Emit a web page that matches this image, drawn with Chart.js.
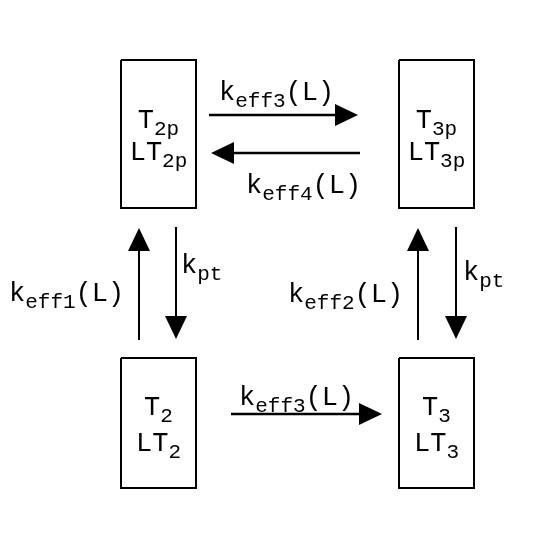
<!DOCTYPE html>
<html>
<head>
<meta charset="utf-8">
<script src="https://cdn.jsdelivr.net/npm/chart.js@4"></script>
<style>
  html, body { margin: 0; padding: 0; background: #fff; }
  #wrap { width: 536px; height: 536px; }
</style>
</head>
<body>
<div id="wrap"><canvas id="diagram"></canvas></div>
<script>
// states (boxes) in diagram units, y grows downward
const boxMain = [['T', 'LT'], ['T', 'LT'], ['T', 'LT'], ['T', 'LT']];
const boxSub = ['2p', '3p', '2', '3'];
const boxLeft = [121, 399, 121, 399];
const boxRight = [196, 474, 196, 474];
const boxTop = [60, 60, 358, 358];
const boxBottom = [208, 208, 488, 488];
const boxLineY = [[128, 160], [128, 160], [415, 451], [415, 451]];

// transitions: arrow tail -> tip
const arrowX0 = [209, 360, 139, 176, 418, 456, 231];
const arrowY0 = [115, 153, 340, 227, 340, 227, 414];
const arrowX1 = [358, 211, 139, 176, 418, 456, 382];
const arrowY1 = [115, 153, 228, 339, 228, 339, 414];

// rate labels
const rateSub = ['eff3', 'eff4', 'eff1', 'pt', 'eff2', 'pt', 'eff3'];
const rateArg = ['(L)', '(L)', '(L)', '', '(L)', '', '(L)'];
const rateX = [219, 246, 9, 181, 288, 463, 239];
const rateY = [100, 193, 301, 273, 302, 280, 405];

const FACE = "'Courier New', 'Nimbus Mono PS', 'Nimbus Mono L', FreeMono, Courier, 'Liberation Mono', monospace";
const MAIN_FONT = '27px ' + FACE;
const SUB_FONT = '21px ' + FACE;
const SUB_DROP = 7;

const datasets = [];
boxLeft.forEach((l, i) => {
    const r = boxRight[i], t = boxTop[i], b = boxBottom[i];
    datasets.push({
        data: [{x: l, y: t}, {x: r, y: t}, {x: r, y: b}, {x: l, y: b}, {x: l, y: t}],
        showLine: true, borderColor: '#000', borderWidth: 2, pointRadius: 0, tension: 0
    });
});

const HEAD_LEN = 23, HEAD_HALF = 11;
arrowX0.forEach((x0, i) => {
    const y0 = arrowY0[i], x1 = arrowX1[i], y1 = arrowY1[i];
    const len = Math.hypot(x1 - x0, y1 - y0);
    const ux = (x1 - x0) / len, uy = (y1 - y0) / len;
    datasets.push({
        data: [{x: x0, y: y0}, {x: x1 - ux * (HEAD_LEN - 2), y: y1 - uy * (HEAD_LEN - 2)}],
        showLine: true, borderColor: '#000', borderWidth: y0 === y1 ? 2.5 : 2, pointRadius: 0
    });
});

function drawRich(ctx, parts, x, y, align) {
    let w = 0;
    parts.forEach(p => { ctx.font = p[1] ? SUB_FONT : MAIN_FONT; w += ctx.measureText(p[0]).width; });
    let cx = align === 'center' ? x - w / 2 : x;
    parts.forEach(p => {
        ctx.font = p[1] ? SUB_FONT : MAIN_FONT;
        ctx.fillText(p[0], cx, y + (p[1] ? SUB_DROP : 0));
        cx += ctx.measureText(p[0]).width;
    });
}

const diagramPlugin = {
    id: 'diagram',
    afterDatasetsDraw(chart) {
        const ctx = chart.ctx, xs = chart.scales.x, ys = chart.scales.y;
        ctx.save();
        ctx.fillStyle = '#000';
        ctx.textBaseline = 'alphabetic';
        ctx.textAlign = 'left';

        // arrowheads
        arrowX0.forEach((x0, i) => {
            const px0 = xs.getPixelForValue(x0), py0 = ys.getPixelForValue(arrowY0[i]);
            const px1 = xs.getPixelForValue(arrowX1[i]), py1 = ys.getPixelForValue(arrowY1[i]);
            const len = Math.hypot(px1 - px0, py1 - py0);
            const ux = (px1 - px0) / len, uy = (py1 - py0) / len;
            const bx = px1 - ux * HEAD_LEN, by = py1 - uy * HEAD_LEN;
            ctx.beginPath();
            ctx.moveTo(px1, py1);
            ctx.lineTo(bx - uy * HEAD_HALF, by + ux * HEAD_HALF);
            ctx.lineTo(bx + uy * HEAD_HALF, by - ux * HEAD_HALF);
            ctx.closePath();
            ctx.fill();
        });

        // state labels
        boxMain.forEach((lines, i) => {
            const cx = xs.getPixelForValue((boxLeft[i] + boxRight[i]) / 2);
            lines.forEach((m, j) => {
                drawRich(ctx, [[m, false], [boxSub[i], true]], cx, ys.getPixelForValue(boxLineY[i][j]), 'center');
            });
        });

        // rate labels
        rateSub.forEach((s, i) => {
            const parts = [['k', false], [s, true]];
            if (rateArg[i]) parts.push([rateArg[i], false]);
            drawRich(ctx, parts, xs.getPixelForValue(rateX[i]), ys.getPixelForValue(rateY[i]), 'left');
        });
        ctx.restore();
    }
};

new Chart(document.getElementById('diagram'), {
    type: 'scatter',
    data: { datasets: datasets },
    options: {
        responsive: true, maintainAspectRatio: false, animation: false,
        layout: { padding: 0 },
        plugins: { legend: { display: false }, tooltip: { enabled: false } },
        scales: {
            x: { type: 'linear', min: 0, max: 536, display: false },
            y: { type: 'linear', min: 0, max: 536, reverse: true, display: false }
        }
    },
    plugins: [diagramPlugin]
});
</script>
</body>
</html>
